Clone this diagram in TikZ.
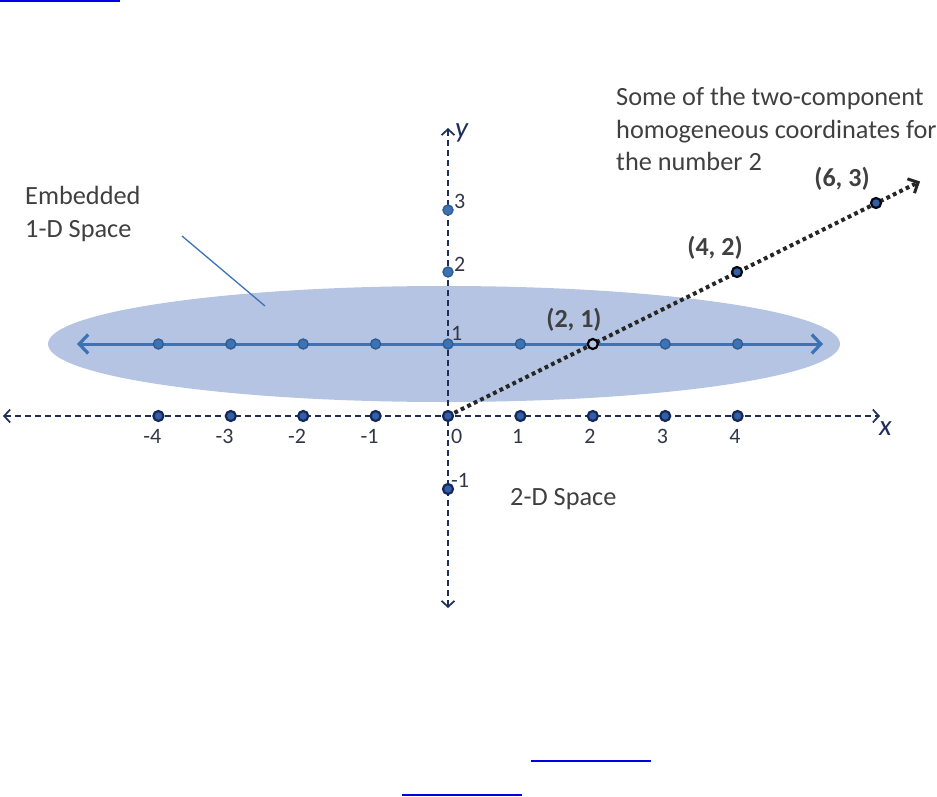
\documentclass[tikz,border=0pt]{standalone}
\usepackage{fontspec}
\setmainfont{Carlito}
\usetikzlibrary{arrows.meta}
\definecolor{ellfill}{RGB}{180,196,226}
\definecolor{lineblue}{RGB}{61,115,180}
\definecolor{navy}{RGB}{31,45,90}
\definecolor{ptnavy}{RGB}{22,40,90}
\definecolor{ptfill}{RGB}{50,95,165}
\definecolor{txt}{RGB}{64,64,64}
\definecolor{numtxt}{RGB}{50,55,72}
\definecolor{linkblue}{RGB}{0,0,230}
\tikzset{
  axisline/.style={navy, line width=1.6pt, dash pattern=on 6pt off 4pt,
    {Straight Barb[length=6pt,width=13pt,line width=1.7pt]}-{Straight Barb[length=6pt,width=13pt,line width=1.7pt]}},
  embline/.style={lineblue, line width=3pt,
    {Straight Barb[length=9pt,width=19pt,line width=3.2pt]}-{Straight Barb[length=9pt,width=19pt,line width=3.2pt]}},
  dotline/.style={black!85, line width=4pt, dash pattern=on 3.8pt off 3.4pt,
    -{Straight Barb[length=8pt,width=16pt,line width=3pt]}},
  bluept/.style={circle, inner sep=0pt, minimum size=10pt, fill=lineblue, draw=lineblue!80!black, line width=1.4pt},
  axpt/.style={circle, inner sep=0pt, minimum size=10pt, fill=ptfill, draw=ptnavy, line width=2.2pt},
  hollowpt/.style={circle, inner sep=0pt, minimum size=10pt, fill=ellfill, draw=black, line width=2.2pt},
  rayppt/.style={circle, inner sep=0pt, minimum size=10pt, fill=ptfill, draw=black!80!navy, line width=2.2pt},
  numlab/.style={font=\fontsize{22}{24}\selectfont, text=numtxt, inner sep=0pt},
  bodytxt/.style={font=\fontsize{26.3}{33}\selectfont, text=txt, inner sep=0pt, align=left},
  coordlab/.style={font=\fontsize{26}{30}\selectfont\bfseries, text=txt, inner sep=0pt},
  axlab/.style={font=\fontsize{29}{32}\selectfont\itshape, text=navy, inner sep=0pt},
  linkline/.style={linkblue, line width=2pt}
}
\begin{document}
\begin{tikzpicture}[x=1pt,y=-1pt]
\useasboundingbox (0,0) rectangle (937,797);
% hyperlink underlines
\coordinate (la) at (0,1); \coordinate (lb) at (120,1);
\coordinate (lc) at (531,761); \coordinate (ld) at (651,761);
\coordinate (le) at (402,795); \coordinate (lf) at (522,795);
\draw[linkline] (la) -- (lb);
\draw[linkblue, line width=1.5pt] (lc) -- (ld);
\draw[linkline] (le) -- (lf);
% embedded space ellipse
\fill[ellfill] (444,344) ellipse [x radius=396, y radius=58];
% axes
\coordinate (O) at (448,416);
\coordinate (xl) at (3,416); \coordinate (xr) at (880,416);
\coordinate (yt) at (448,128); \coordinate (yb) at (448,608);
\draw[axisline] (xl) -- (xr);
\draw[axisline] (yb) -- (yt);
\node[axlab, anchor=base west] (xlab) at (879,435) {x};
\node[axlab, anchor=base west] (ylab) at (455,138) {y};
% embedded line
\coordinate (el) at (77,344); \coordinate (er) at (823,344);
\draw[embline] (el) -- (er);
% ray
\coordinate (rayend) at (920,181.5);
\draw[dotline] (O) -- (rayend);
% pointer line
\coordinate (pa) at (182,236); \coordinate (pb) at (265,306);
\draw[lineblue, line width=1.3pt] (pa) -- (pb);
% x-axis points and labels
\foreach \k/\n in {-4/m4,-3/m3,-2/m2,-1/m1,1/p1,2/p2,3/p3,4/p4}{
  \node[axpt] (x\n) at ({448+72.4*\k},416) {};
  \node[numlab, anchor=base east] (xl\n) at ({448+72.4*\k+3},443) {\k};
}
\node[axpt] (x0) at (O) {};
\node[numlab, anchor=base west] (xl0) at (451,443) {0};
% embedded line points
\foreach \k/\n in {-4/m4,-3/m3,-2/m2,-1/m1,0/z,1/p1,3/p3,4/p4}{
  \node[bluept] (e\n) at ({448+72.4*\k},344) {};
}
% y-axis points
\node[bluept] (y3) at (448,210) {};
\node[bluept] (y2) at (448,272) {};
\node[axpt] (ym1) at (448,489) {};
\node[numlab, anchor=base west] (yl3) at (454,208) {3};
\node[numlab, anchor=base west] (yl2) at (454,271) {2};
\node[numlab, anchor=base west] (yl1) at (451,340) {1};
\node[numlab, anchor=base west] (ylm1) at (451,487) {-1};
% ray points
\node[hollowpt] (r1) at (592.8,344) {};
\node[rayppt] (r2) at (737,272) {};
\node[rayppt] (r3) at (876,203) {};
\node[coordlab, anchor=base] (c1) at (574,327) {(2, 1)};
\node[coordlab, anchor=base] (c2) at (715,255) {(4, 2)};
\node[coordlab, anchor=base] (c3) at (842,186) {(6, 3)};
% texts
\node[bodytxt, anchor=base west] (emb1) at (25,204) {Embedded};
\node[bodytxt, anchor=base west] (emb2) at (25,237) {1-D Space};
\node[bodytxt, anchor=base west] (s1) at (616,106) {Some of the two-component};
\node[bodytxt, anchor=base west] (s2) at (616,139) {homogeneous coordinates for};
\node[bodytxt, anchor=base west] (s3) at (616,171) {the number 2};
\node[bodytxt, anchor=base west] (twod) at (510,505) {2-D Space};
\end{tikzpicture}
\end{document}
